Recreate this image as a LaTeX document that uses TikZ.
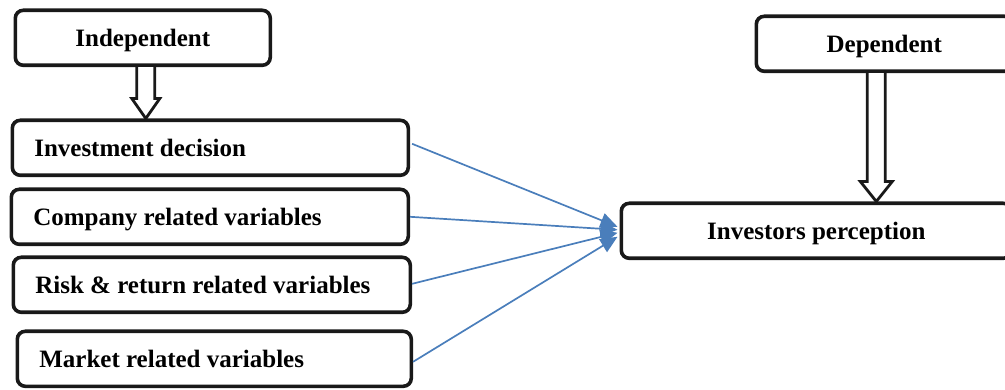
\documentclass[tikz,border=0pt]{standalone}
\usepackage{fontspec}
\setmainfont{Liberation Serif}
\usetikzlibrary{arrows.meta,calc}
\definecolor{arrowblue}{RGB}{74,126,187}
\tikzset{
  box/.style={draw=black!90, line width=3.6pt, rounded corners=8pt, fill=white,
    font=\bfseries\fontsize{25}{29}\selectfont, minimum height=55pt, inner ysep=0pt,
    text height=17pt, text depth=0pt},
  leftbox/.style={box, align=flush left, inner xsep=22pt, anchor=north west},
  centerbox/.style={box, align=center, anchor=north west},
  blockarrow/.style={draw=black!90, line width=2.8pt, fill=white, line join=miter},
  link/.style={draw=arrowblue, line width=1.7pt, -{Triangle[length=17pt,width=15pt]}},
}
\begin{document}
\begin{tikzpicture}[x=1pt,y=-1pt]
\useasboundingbox (0,0) rectangle (1005,390);
\clip (0,0) rectangle (1005,390);
\node[centerbox, minimum width=255pt] (ind) at (13.5,8.5) {Independent};
\node[leftbox, text width=352pt] (inv) at (10.5,118.5) {Investment decision};
\node[leftbox, text width=353pt] (com) at (9.5,187.5) {Company related variables};
\node[leftbox, text width=353pt] (risk) at (11.5,255.5) {Risk \& return related variables};
\node[leftbox, text width=350pt] (mkt) at (15.5,329.5) {Market related variables};
\node[centerbox, minimum width=256pt] (dep) at (754.5,14.5) {Dependent};
\node[centerbox, minimum width=390pt] (ip) at (619.5,201.5) {Investors perception};
% block arrows
\coordinate (a1) at ($(ind.south)+(3,0)$);
\coordinate (a1t) at (a1 |- inv.north);
\draw[blockarrow] ($(a1)+(-9,0)$) -- ($(a1t)+(-9,-20)$) -- ($(a1t)+(-14,-20)$) -- (a1t)
  -- ($(a1t)+(14,-20)$) -- ($(a1t)+(9,-20)$) -- ($(a1)+(9,0)$);
\coordinate (a2) at ($(dep.south)+(-8,0)$);
\coordinate (a2t) at (a2 |- ip.north);
\draw[blockarrow] ($(a2)+(-9,0)$) -- ($(a2t)+(-9,-20)$) -- ($(a2t)+(-16,-20)$) -- (a2t)
  -- ($(a2t)+(16,-20)$) -- ($(a2t)+(9,-20)$) -- ($(a2)+(9,0)$);
% blue links
\coordinate (t1) at ($(ip.west)+(-2,-4)$);
\coordinate (t2) at ($(ip.west)+(-2,-1)$);
\coordinate (t3) at ($(ip.west)+(-2,2)$);
\coordinate (t4) at ($(ip.west)+(-2,6)$);
\draw[link] ($(inv.east)+(2,-4)$) -- (t1);
\draw[link] ($(com.east)+(0,0)$) -- (t2);
\draw[link] ($(risk.east)+(0,-1)$) -- (t3);
\draw[link] ($(mkt.east)+(0,3)$) -- (t4);
\end{tikzpicture}
\end{document}
